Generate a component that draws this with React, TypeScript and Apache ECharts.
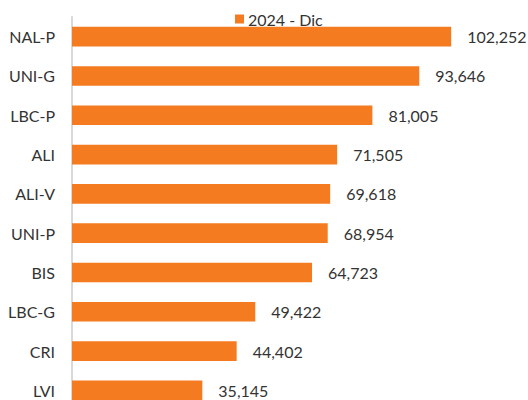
import React, { useEffect, useRef } from "react";
import * as echarts from "echarts";

const categories = ["NAL-P", "UNI-G", "LBC-P", "ALI", "ALI-V", "UNI-P", "BIS", "LBC-G", "CRI", "LVI"];
const values2024Dic = [102252, 93646, 81005, 71505, 69618, 68954, 64723, 49422, 44402, 35145];
const seriesName = "2024 - Dic";

export default function App() {
  const ref = useRef<HTMLDivElement>(null);
  useEffect(() => {
    document.body.style.margin = "0";
    document.body.style.overflow = "hidden";
    document.documentElement.style.overflow = "hidden";
    const chart = echarts.init(ref.current!, null, { renderer: "svg" });
    chart.setOption({
      animation: false,
      textStyle: { fontFamily: "Lato" },
      legend: {
        data: [seriesName],
        left: 230,
        top: 6,
        icon: "rect",
        itemWidth: 9,
        itemHeight: 9,
        itemGap: 4,
        textStyle: { fontSize: 16, color: "#333333", fontFamily: "Lato", padding: [0, 0, 0, -1] },
      },
      grid: { left: 72, right: 11, top: 17, bottom: 3, containLabel: false },
      xAxis: {
        type: "value",
        min: 0,
        max: 120000,
        show: false,
        splitLine: { show: false },
      },
      yAxis: {
        type: "category",
        data: categories,
        inverse: true,
        axisLine: { show: true, lineStyle: { color: "#d9d9d9", width: 2 } },
        axisTick: { show: false },
        axisLabel: { fontSize: 16, color: "#333333", margin: 17, fontFamily: "Lato" },
      },
      series: [
        {
          name: seriesName,
          type: "bar",
          data: values2024Dic,
          barCategoryGap: "50%",
          itemStyle: { color: "#F47B20" },
          label: {
            show: true,
            position: "right",
            distance: 16,
            fontSize: 16,
            color: "#333333",
            fontFamily: "Lato",
            formatter: (p: any) => Number(p.value).toLocaleString("en-US"),
          },
        },
      ],
    });
    return () => chart.dispose();
  }, []);
  return <div ref={ref} style={{ width: 528, height: 413 }} />;
}
